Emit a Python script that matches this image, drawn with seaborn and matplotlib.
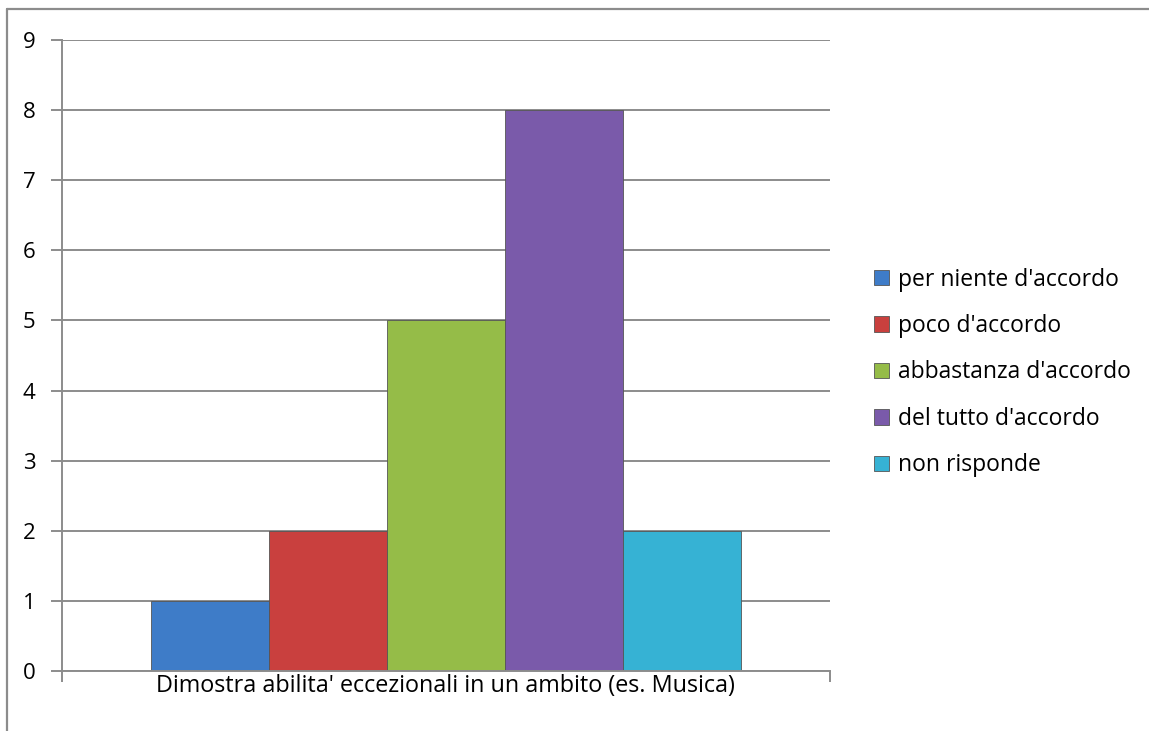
import pandas as pd
import matplotlib.pyplot as plt
from matplotlib.lines import Line2D
import seaborn as sns

# Data
category = "Dimostra abilita' eccezionali in un ambito (es. Musica)"
responses = ["per niente d'accordo", "poco d'accordo", "abbastanza d'accordo",
             "del tutto d'accordo", "non risponde"]
counts = [1, 2, 5, 8, 2]
colors = ["#3E7CC8", "#C9403E", "#95BC48", "#7A5AAA", "#36B2D4"]

data = pd.DataFrame({"ambito": [category] * len(responses),
                     "risposta": responses,
                     "n": counts})

sns.set_theme(style="white", rc={"text.color": "black",
                                 "xtick.color": "black",
                                 "ytick.color": "black"})
plt.rcParams['font.family'] = ['Open Sans', 'DejaVu Sans']

fig = plt.figure(figsize=(11.49, 7.31), dpi=100)
ax = fig.add_axes([0.054, 0.082, 0.668, 0.8635])

sns.barplot(data=data, x="ambito", y="n", hue="risposta", hue_order=responses,
            palette=colors, width=0.768, gap=0, saturation=1,
            edgecolor="#555555", linewidth=0.6, ax=ax)

ax.set_xlim(-0.5, 0.5)
ax.set_ylim(0, 9)
ax.set_yticks(range(0, 10))
ax.yaxis.grid(True, color="#8c8c8c", linewidth=1.4)
ax.set_axisbelow(True)

for s in ["top", "right"]:
    ax.spines[s].set_visible(False)
for s in ["left", "bottom"]:
    ax.spines[s].set_color("#8c8c8c")
    ax.spines[s].set_linewidth(1.4)

ax.tick_params(axis="y", which="major", length=8, width=1.4, color="#8c8c8c",
               direction="out", left=True, labelsize=16, pad=11,
               labelcolor="black")
ax.tick_params(axis="x", which="major", length=0, labelsize=16.8, pad=2,
               labelcolor="black")
ax.set_xticks([-0.5, 0.5], minor=True)
ax.tick_params(axis="x", which="minor", length=8, width=1.4, color="#8c8c8c",
               direction="out", bottom=True)

ax.set_xlabel("")
ax.set_ylabel("")

leg = ax.legend(loc="center left", bbox_to_anchor=(1.031, 0.473), frameon=False,
                fontsize=16.5, handlelength=0.65, handleheight=0.65,
                handletextpad=0.4, labelspacing=0.98)
for t in leg.get_texts():
    t.set_color("black")

# outer chart border (top and left visible)
fig.add_artist(Line2D([7 / 1149, 1.0], [1 - 9 / 731, 1 - 9 / 731],
                      transform=fig.transFigure, color="#8c8c8c", linewidth=1.6))
fig.add_artist(Line2D([7 / 1149, 7 / 1149], [0, 1 - 9 / 731],
                      transform=fig.transFigure, color="#8c8c8c", linewidth=1.6))

fig.savefig("out.png", dpi=100)
